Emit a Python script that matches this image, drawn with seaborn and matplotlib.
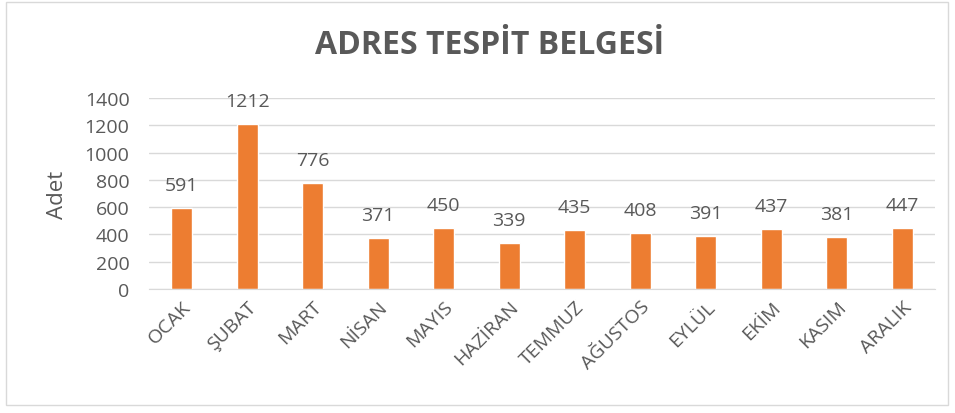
import matplotlib
matplotlib.use("Agg")
import matplotlib.pyplot as plt
import seaborn as sns
import pandas as pd
from matplotlib.patches import Rectangle

months = ["OCAK", "ŞUBAT", "MART", "NİSAN", "MAYIS", "HAZİRAN",
          "TEMMUZ", "AĞUSTOS", "EYLÜL", "EKİM", "KASIM", "ARALIK"]
counts = [591, 1212, 776, 371, 450, 339, 435, 408, 391, 437, 381, 447]
yticks = [0, 200, 400, 600, 800, 1000, 1200, 1400]

df = pd.DataFrame({"ay": months, "adet": counts})

sns.set_style("white")
plt.rcParams["font.family"] = ["Open Sans", "DejaVu Sans"]
text_color = "#595959"

fig = plt.figure(figsize=(9.55, 4.14), dpi=100)
ax = fig.add_axes([0.156, 0.2995, 0.823, 0.4615])

sns.barplot(data=df, x="ay", y="adet", color="#ED7D31", width=0.32,
            saturation=1, ax=ax)

ax.set_ylim(0, 1400)
ax.set_yticks(yticks)
ax.set_yticklabels([str(t) for t in yticks], fontsize=14, color=text_color)
ax.set_xlim(-0.5, len(months) - 0.5)
ax.set_xticks(range(len(months)))
ax.set_xticklabels(months, rotation=45, ha="right", rotation_mode="anchor",
                   fontsize=14, color=text_color)
ax.tick_params(axis="y", length=0, pad=14)
ax.tick_params(axis="x", length=0, pad=6)
ax.yaxis.grid(True, color="#D9D9D9", linewidth=1)
ax.set_axisbelow(True)
for side in ["top", "right", "left"]:
    ax.spines[side].set_visible(False)
ax.spines["bottom"].set_color("#D9D9D9")

ax.set_xlabel("")
ax.set_ylabel("Adet", fontsize=16, color=text_color, labelpad=12)

# value labels
for i, v in enumerate(counts):
    ax.annotate(str(v), (i, v), xytext=(0, 10), textcoords="offset points",
                ha="center", va="bottom", fontsize=14, color=text_color)

fig.text(0.513, 0.891, "ADRES TESPİT BELGESİ", ha="center", va="center",
         fontsize=23, fontweight="bold", color=text_color)

fig.patches.append(Rectangle((0.006, 0.02), 0.987, 0.972, transform=fig.transFigure,
                             fill=False, edgecolor="#D9D9D9", linewidth=1))

fig.savefig("out.png", dpi=100)
